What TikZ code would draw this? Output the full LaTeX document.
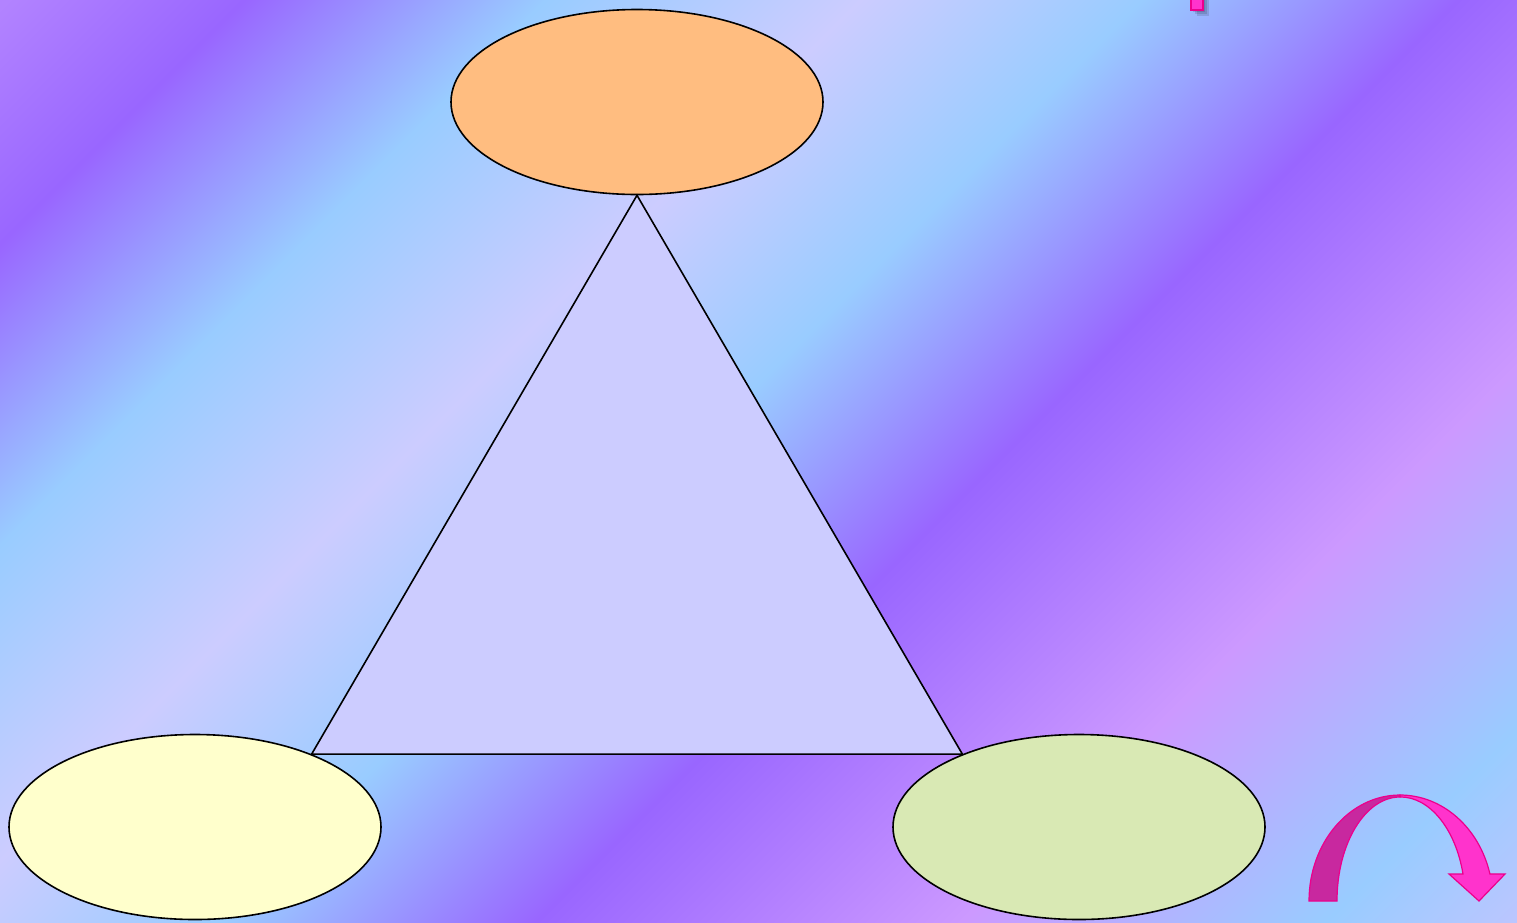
\documentclass[tikz,border=0pt]{standalone}
\usetikzlibrary{shapes.geometric}
\definecolor{bgmauve}{HTML}{B283FF}
\definecolor{bgpurple}{HTML}{9966FF}
\definecolor{bgblue}{HTML}{99CCFF}
\definecolor{bglavender}{HTML}{CCCCFF}
\definecolor{bgpink}{HTML}{CC99FF}
\definecolor{bgend}{HTML}{BAC6FF}
\definecolor{topfill}{HTML}{FFBD80}
\definecolor{leftfill}{HTML}{FFFFCC}
\definecolor{rightfill}{HTML}{D9E9B4}
\definecolor{darkpink}{HTML}{C8289F}
\definecolor{lightpink}{HTML}{FF33CC}
\pgfdeclarehorizontalshading{bgstripes}{100bp}{color(0bp)=(bgmauve); color(25bp)=(bgmauve);
  color(29.9bp)=(bgpurple); color(36.1bp)=(bgblue); color(42.6bp)=(bglavender);
  color(48.4bp)=(bgblue); color(54.9bp)=(bgpurple); color(63.7bp)=(bgpink);
  color(71.2bp)=(bgblue); color(75bp)=(bgend); color(100bp)=(bgend)}
\begin{document}
\begin{tikzpicture}[x=1pt, y=-1pt,
    bubble/.style={draw=black, ellipse, line width=1.6pt, inner sep=0pt,
      minimum width=372pt, minimum height=185pt},
    pinkline/.style={draw=magenta, line width=1.2pt}]
  \useasboundingbox (0,0) rectangle (1517,922);
  % striped background
  \begin{scope}
    \clip (0,0) rectangle (1517,922);
    \shade[shading=bgstripes, shading angle=-45] (-103.8,-401.3) rectangle (1620.8,1323.3);
  \end{scope}
  % the three ellipses
  \node[bubble, fill=topfill] (top) at (637,102) {};
  \node[bubble, fill=leftfill] (left) at (195,827) {};
  \node[bubble, fill=rightfill] (right) at (1079,827) {};
  \filldraw[fill=bglavender, draw=black, line width=1.6pt, line join=miter]
    (top.south) -- (left.32) -- (right.148) -- cycle;
  % curved arrow
  \filldraw[pinkline, fill=darkpink] (1309,901) arc[start angle=180, end angle=270, x radius=91, y radius=106]
    -- (1400,797) arc[start angle=270, end angle=180, x radius=63, y radius=104] -- cycle;
  \filldraw[pinkline, fill=lightpink] (1400,795) arc[start angle=270, end angle=345.2, x radius=93, y radius=106]
    -- (1505,874) -- (1479,901) -- (1449,874) -- (1463,874)
    arc[start angle=345, end angle=270, x radius=65, y radius=104] -- cycle;
  % cut off mark at the top
  \foreach \d in {2,4,6}{
    \fill[black, opacity=.12] (1191+\d,-2) rectangle (1203+\d,10+\d);
  }
  \filldraw[pinkline, fill=lightpink] (1191,-2) rectangle (1203,10);
\end{tikzpicture}
\end{document}
